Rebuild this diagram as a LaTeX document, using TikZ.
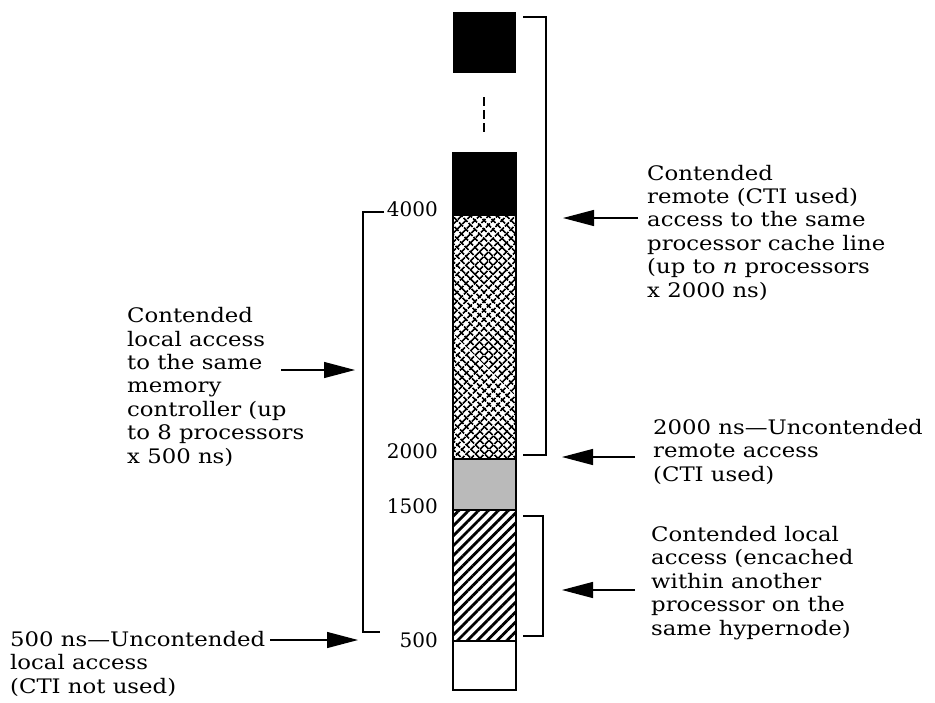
\documentclass[tikz,border=0pt]{standalone}
\usepackage{fontspec}
\setmainfont{DejaVu Serif}
\newfontfamily\notefont[FakeStretch=1.14, Ligatures=TeX]{DejaVu Serif}
\usetikzlibrary{arrows.meta,patterns.meta}

\begin{document}
\begin{tikzpicture}[x=1pt, y=-1pt,
    every node/.style={font=\fontsize{20}{23.4}\selectfont, inner sep=0pt},
    note/.style={align=left, anchor=base west, font=\notefont\fontsize{20}{23.4}\selectfont},
    tick/.style={anchor=base east},
    seg/.style={draw=black, line width=1.2pt},
    brace/.style={line width=1.5pt},
    pointer/.style={line width=1.3pt, -{Triangle[length=31pt,width=16pt]}}
  ]
  \useasboundingbox (0,0) rectangle (935,702);

  % Bar: top block, gap, stacked levels
  \fill[black] (453,12) rectangle (516,73);
  \draw[line width=1.8pt, dash pattern=on 9pt off 4pt] (484,97) -- (484,133);
  \fill[black] (453,153) rectangle (516,215);
  \foreach \ang in {45,-45}
    \path[pattern={Lines[angle=\ang, distance=6.4pt, line width=2pt]}] (453,215) rectangle (516,459);
  \fill[black!27] (453,459) rectangle (516,510);
  \path[pattern={Lines[angle=45, distance=7pt, line width=2.8pt]}] (453,510) rectangle (516,641);
  \draw[seg] (453,153) rectangle (516,690);
  \foreach \y in {215,459,510,641}
    \draw[seg] (453,\y) -- (516,\y);

  % Brackets
  \draw[brace] (523,17) -- (546,17) -- (546,455) -- (523,455);
  \draw[brace] (523,516) -- (543,516) -- (543,636) -- (523,636);
  \draw[brace] (384,212) -- (363,212) -- (363,632) -- (380,632);

  % Level values
  \node[tick] (t4000) at (438,216) {4000};
  \node[tick] (t2000) at (438,458) {2000};
  \node[tick] (t1500) at (438,513) {1500};
  \node[tick] (t500) at (438,647) {500};

  % Notes (anchored at the baseline of their last line)
  \node[note] (remcont) at (647,297) {Contended\\remote (CTI used)\\access to the same\\processor cache line\\(up to \textit{n} processors\\x 2000 ns)};
  \node[note] (remunc) at (653,481) {2000 ns---Uncontended\\remote access\\(CTI used)};
  \node[note] (hypcont) at (651,635) {Contended local\\access (encached\\within another\\processor on the\\same hypernode)};
  \node[note] (memcont) at (127,463) {Contended\\local access\\to the same\\memory\\controller (up\\to 8 processors\\x 500 ns)};
  \node[note] (locunc) at (10,693) {500 ns---Uncontended\\local access\\(CTI not used)};

  % Arrow ends
  \coordinate (remcontA) at (638,218); \coordinate (remcontB) at (563,218);
  \coordinate (remuncA) at (635,457);  \coordinate (remuncB) at (562,457);
  \coordinate (hypcontA) at (635,590); \coordinate (hypcontB) at (562,590);
  \coordinate (memcontA) at (281,370); \coordinate (memcontB) at (355,370);
  \coordinate (locuncA) at (270,640);  \coordinate (locuncB) at (358,640);
  \foreach \n in {remcont,remunc,hypcont,memcont,locunc}
    \draw[pointer] (\n A) -- (\n B);
\end{tikzpicture}
\end{document}
